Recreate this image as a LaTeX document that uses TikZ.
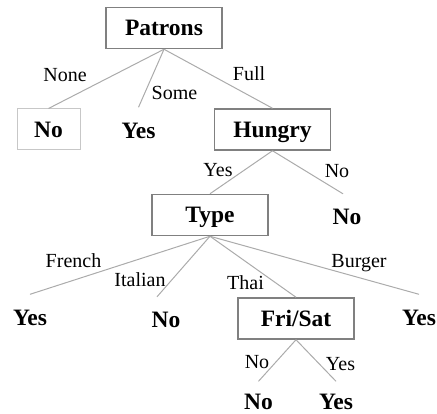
\documentclass[tikz,border=0pt]{standalone}
\usepackage{fontspec}
\setmainfont{Liberation Serif}
\begin{document}
\begin{tikzpicture}[x=1pt,y=-1pt,
  box/.style={draw=black!50,line width=1.5pt,minimum width=116pt,minimum height=41pt,inner sep=0pt,
    font=\fontsize{23.5}{24}\selectfont\bfseries,text height=16pt,text depth=0pt},
  lbox/.style={box,draw=black!22,line width=1pt,minimum width=63pt},
  leaf/.style={inner sep=0pt,minimum height=46pt,font=\fontsize{23.5}{24}\selectfont\bfseries,text height=16pt,text depth=0pt},
  lab/.style={inner sep=0pt,font=\fontsize{20}{22}\selectfont,text height=13.6pt,text depth=0pt},
  edge/.style={draw=black!33,line width=1pt}]
\useasboundingbox (0,0) rectangle (437,414);
% decision boxes
\node[box] (pat) at (164,28) {Patrons};
\node[lbox] (n1) at (48.5,129.5) {No};
\node[leaf] (y1) at (138.5,130.5) {Yes};
\node[box] (hun) at (272.5,129.5) {Hungry};
\node[box] (typ) at (210,215) {Type};
\node[leaf] (n2) at (347,217) {No};
\node[leaf] (y2) at (30,317.5) {Yes};
\node[leaf] (n3) at (166,320) {No};
\node[box] (fri) at (296,318.5) {Fri/Sat};
\node[leaf] (y3) at (419,317.5) {Yes};
\node[leaf,minimum height=40pt] (n4) at (258.5,401.5) {No};
\node[leaf,minimum height=40pt] (y4) at (336,401.5) {Yes};
% connectors
\draw[edge] (pat.south) -- (n1.north);
\draw[edge] (pat.south) -- (y1.north);
\draw[edge] (pat.south) -- (hun.north);
\draw[edge] (hun.south) -- (typ.north);
\draw[edge] (hun.south) -- ([xshift=-4pt]n2.north);
\draw[edge] (typ.south) -- (y2.north);
\draw[edge] (typ.south) -- ([xshift=-9pt]n3.north);
\draw[edge] (typ.south) -- (fri.north);
\draw[edge] (typ.south) -- (y3.north);
\draw[edge] (fri.south) -- (n4.north);
\draw[edge] (fri.south) -- (y4.north);
% edge labels
\node[lab] (l1) at (65,74.5) {None};
\node[lab] (l2) at (174.5,92.5) {Some};
\node[lab] (l3) at (249,74) {Full};
\node[lab] (l4) at (218,170) {Yes};
\node[lab] (l5) at (337,171) {No};
\node[lab] (l6) at (73.5,260.5) {French};
\node[lab] (l7) at (140,280) {Italian};
\node[lab] (l8) at (245.5,283) {Thai};
\node[lab] (l9) at (359,260.5) {Burger};
\node[lab] (l10) at (257,362) {No};
\node[lab] (l11) at (340.5,364) {Yes};
\end{tikzpicture}
\end{document}
